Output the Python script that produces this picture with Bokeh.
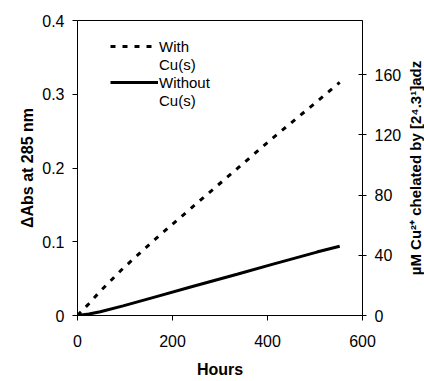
from bokeh.plotting import figure
from bokeh.layouts import row
from bokeh.models import Range1d, LinearAxis, Legend, LegendItem, FixedTicker, NumeralTickFormatter, Title
from bokeh.embed import file_html
from bokeh.resources import INLINE

hours = [0, 24, 48, 96, 168, 240, 336, 408, 504, 552]
with_cu = [0.0, 0.016, 0.033, 0.064, 0.106, 0.146, 0.199, 0.239, 0.290, 0.316]
without_cu = [0.0, 0.002, 0.005, 0.013, 0.026, 0.039, 0.056, 0.069, 0.086, 0.094]

x_ticks = [0, 200, 400, 600]
left_ticks = [0, 0.1, 0.2, 0.3, 0.4]
right_ticks = [0, 40, 80, 120, 160]

FONT = "Liberation Sans"

p = figure(width=404, height=381, x_range=Range1d(0, 600), y_range=Range1d(0, 0.4),
           output_backend="svg", toolbar_location=None,
           min_border_left=77, min_border_right=42, min_border_top=18, min_border_bottom=66)
p.extra_y_ranges = {"uM": Range1d(0, 196)}

p.xgrid.visible = False
p.ygrid.visible = False
p.outline_line_color = "black"
p.outline_line_width = 1
p.background_fill_color = "white"
p.border_fill_color = "white"

r1 = p.line(hours, with_cu, line_color="black", line_width=3, line_dash="5 7")
r2 = p.line(hours, without_cu, line_color="black", line_width=3)
blank = p.line([], [], line_alpha=0)

for ax in (p.xaxis[0], p.yaxis[0]):
    ax.axis_line_color = "black"
    ax.major_tick_line_color = "black"
    ax.minor_tick_line_color = None
    ax.major_tick_in = 0
    ax.major_tick_out = 5
    ax.major_label_text_font = FONT
    ax.major_label_text_font_size = "16px"
    ax.major_label_text_color = "black"
    ax.axis_label_text_font = FONT
    ax.axis_label_text_font_size = "16px"
    ax.axis_label_text_font_style = "bold"
    ax.axis_label_text_color = "black"

p.xaxis.ticker = FixedTicker(ticks=x_ticks)
p.xaxis.axis_label = "Hours"
p.xaxis.major_label_standoff = 14
p.xaxis.axis_label_standoff = 11

p.yaxis.ticker = FixedTicker(ticks=left_ticks)
p.yaxis.formatter = NumeralTickFormatter(format="0.[0]")
p.yaxis.axis_label = "ΔAbs at 285 nm"
p.yaxis.major_label_standoff = 8
p.yaxis.axis_label_standoff = 3

ry = LinearAxis(y_range_name="uM", ticker=FixedTicker(ticks=right_ticks))
ry.axis_line_color = "black"
ry.major_tick_line_color = "black"
ry.minor_tick_line_color = None
ry.major_tick_in = 4
ry.major_tick_out = 4
ry.major_label_text_font = FONT
ry.major_label_text_font_size = "16px"
ry.major_label_text_color = "black"
ry.major_label_standoff = 8
p.add_layout(ry, "right")

legend = Legend(items=[LegendItem(label="With", renderers=[r1]),
                       LegendItem(label="Cu(s)", renderers=[blank]),
                       LegendItem(label="Without", renderers=[r2]),
                       LegendItem(label="Cu(s)", renderers=[blank])],
                location=(33, 206))
legend.border_line_color = None
legend.background_fill_alpha = 0
legend.label_text_font = FONT
legend.label_text_font_size = "15px"
legend.label_text_color = "black"
legend.glyph_width = 48
legend.glyph_height = 18
legend.label_height = 18
legend.label_standoff = 1
legend.spacing = 0
legend.padding = 0
legend.margin = 0
p.add_layout(legend, "center")

# narrow companion panel carrying the right-hand axis title (reads bottom to top)
p2 = figure(width=20, height=381, x_range=Range1d(0, 1), y_range=Range1d(0, 1),
            output_backend="svg", toolbar_location=None, title=None,
            min_border_left=0, min_border_right=0, min_border_top=20, min_border_bottom=66)
p2.xaxis.visible = False
p2.yaxis.visible = False
p2.xgrid.visible = False
p2.ygrid.visible = False
p2.outline_line_color = None
p2.background_fill_color = "white"
p2.border_fill_color = "white"
p2.add_layout(Title(text="µM Cu²⁺ chelated by [2⁴.3¹]adz", align="center",
                    text_font=FONT, text_font_size="15px", text_font_style="bold",
                    text_color="black", standoff=0, offset=0), "left")

layout = row(p, p2, spacing=0)
open("out.html", "w").write(file_html(layout, INLINE))
